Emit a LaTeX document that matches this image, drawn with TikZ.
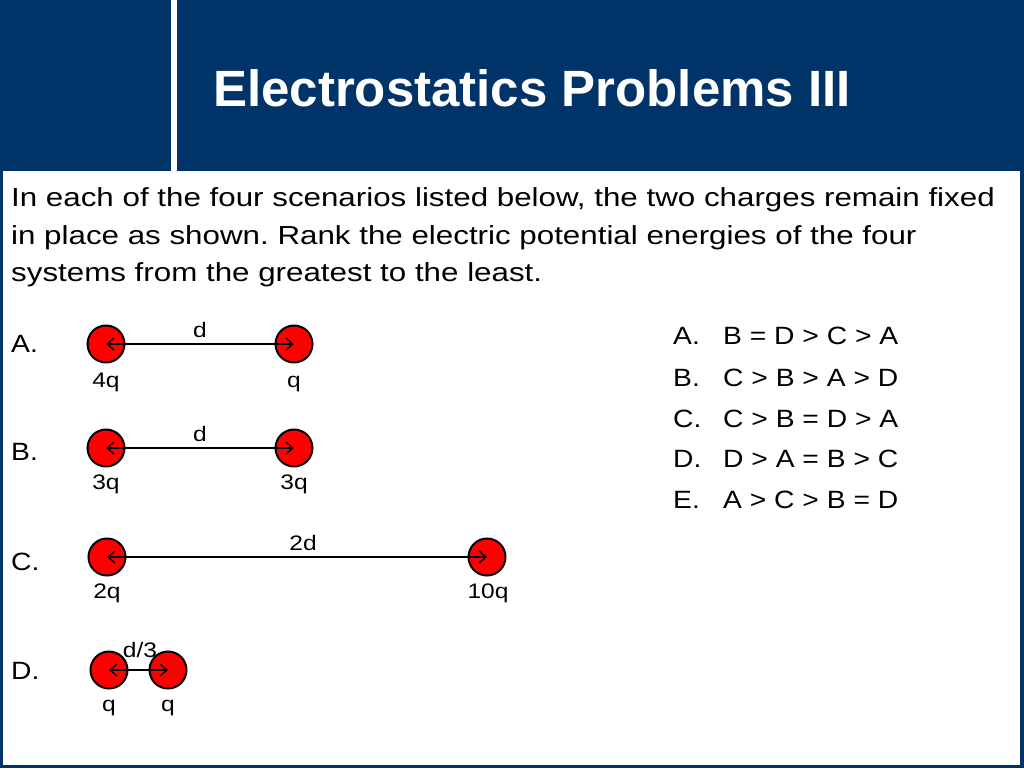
\documentclass[tikz,border=0pt]{standalone}
\usepackage{fontspec}
\setmainfont{Liberation Sans}
\newfontfamily\parafont[FakeStretch=1.2]{Liberation Sans}
\newfontfamily\ansfont[FakeStretch=1.13]{Liberation Sans}
\newfontfamily\smallfont[FakeStretch=1.17]{Liberation Sans}
\usetikzlibrary{arrows.meta}
\definecolor{navy}{RGB}{0,51,104}
\definecolor{chargered}{RGB}{255,0,0}
\tikzset{
  charge/.style={circle, draw=black, line width=2pt, fill=chargered, minimum size=37pt, inner sep=0pt},
  sep/.style={line width=1.3pt, {Straight Barb[length=7pt,width=12pt]}-{Straight Barb[length=7pt,width=12pt]}},
  para/.style={anchor=base west, inner sep=0pt, font=\parafont\fontsize{26.1}{32}\selectfont},
  ans/.style={anchor=base west, inner sep=0pt, font=\ansfont\fontsize{25}{30}\selectfont},
  small/.style={anchor=base, inner sep=0pt, font=\smallfont\fontsize{21}{25}\selectfont},
}
\frenchspacing
\begin{document}
\begin{tikzpicture}[x=1pt,y=-1pt]
\useasboundingbox (0,0) rectangle (1024,768);
% frame and header
\fill[navy] (0,0) rectangle (1024,768);
\fill[white] (3,171) rectangle (1020,765);
\fill[white] (171,0) rectangle (177,171);
\node[anchor=base west, inner sep=0pt, text=white, font=\fontsize{51}{60}\bfseries\selectfont] (title) at (213,106) {Electrostatics Problems III};
% question
\node[para] (l1) at (11,206) {In each of the four scenarios listed below, the two charges remain fixed};
\node[para] (l2) at (11,244) {in place as shown. Rank the electric potential energies of the four};
\node[para] (l3) at (11,281) {systems from the greatest to the least.};
% scenario labels
\node[ans] (sA) at (11,352) {A.};
\node[ans] (sB) at (11,460) {B.};
\node[ans] (sC) at (11,570) {C.};
\node[ans] (sD) at (11,679) {D.};
% scenario A
\node[charge] (a1) at (106,344) {};
\node[charge] (a2) at (294,344) {};
\draw[sep] (a1.center) -- (a2.center);
\node[small] (da) at (200,337) {d};
\node[small] (qa1) at (106,387) {4q};
\node[small] (qa2) at (294,387) {q};
% scenario B
\node[charge] (b1) at (106,448) {};
\node[charge] (b2) at (294,448) {};
\draw[sep] (b1.center) -- (b2.center);
\node[small] (db) at (200,441) {d};
\node[small] (qb1) at (106,489) {3q};
\node[small] (qb2) at (294,489) {3q};
% scenario C
\node[charge] (c1) at (107,557) {};
\node[charge] (c2) at (487,557) {};
\draw[sep] (c1.center) -- (c2.center);
\node[small] (dc) at (303,550) {2d};
\node[small] (qc1) at (107,598) {2q};
\node[small] (qc2) at (488,598) {10q};
% scenario D
\node[charge] (d1) at (109,670) {};
\node[charge] (d2) at (168,670) {};
\draw[sep] (d1.center) -- (d2.center);
\node[small] (dd) at (140,657) {d/3};
\node[small] (qd1) at (109,711) {q};
\node[small] (qd2) at (168,711) {q};
% answers
\node[ans] (oA) at (673,344) {A.};
\node[ans] (rA) at (723,344) {B = D > C > A};
\node[ans] (oB) at (673,386) {B.};
\node[ans] (rB) at (723,386) {C > B > A > D};
\node[ans] (oC) at (673,427) {C.};
\node[ans] (rC) at (723,427) {C > B = D > A};
\node[ans] (oD) at (673,467) {D.};
\node[ans] (rD) at (723,467) {D > A = B > C};
\node[ans] (oE) at (673,508) {E.};
\node[ans] (rE) at (723,508) {A > C > B = D};
\end{tikzpicture}
\end{document}
